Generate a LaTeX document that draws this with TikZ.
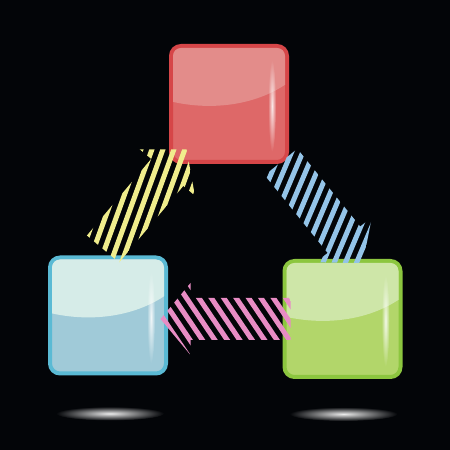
\documentclass[tikz,border=0pt]{standalone}
\usepackage{tikz}
\usetikzlibrary{calc, fadings, positioning}

\definecolor{bg}{RGB}{3,5,8}
\definecolor{redline}{RGB}{214,70,72}
\definecolor{redfill}{RGB}{222,104,104}
\definecolor{redgloss}{RGB}{227,140,138}
\definecolor{blueline}{RGB}{90,186,212}
\definecolor{bluefill}{RGB}{160,202,216}
\definecolor{bluegloss}{RGB}{214,236,232}
\definecolor{greenline}{RGB}{140,198,63}
\definecolor{greenfill}{RGB}{178,214,106}
\definecolor{greengloss}{RGB}{206,230,168}
\definecolor{stripeyellow}{RGB}{240,237,140}
\definecolor{stripeblue}{RGB}{148,196,232}
\definecolor{stripepink}{RGB}{232,140,196}
\definecolor{shadowcore}{RGB}{235,235,235}

\tikzfading[name=glint, inner color=transparent!15, outer color=transparent!100]

\tikzset{
    glassbox/.style 2 args={
        draw=#1, fill=#2, line width=4pt, rounded corners=10pt,
        minimum size=116pt, inner sep=0pt
    },
    stripe/.style={line width=5pt}
}

% gloss on the upper half and a glint on the right side
\newcommand{\glossbox}[2]{%
    \begin{scope}[shift={(#1.center)}]
        \clip[rounded corners=8pt] (-56,-56) rectangle (56,56);
        \fill[#2] (-60,3) .. controls (-15,-8) and (30,0) .. (60,22) -- (60,60) -- (-60,60) -- cycle;
        \fill[white, path fading=glint] (43,-2) ellipse (4 and 46);
    \end{scope}
}

% striped arrow: tail, direction, stripe angle, colour
\newcommand{\stripedarrow}[4]{%
    \begin{scope}
        \clip[shift={(#1)}, rotate=#2] (0,-21) -- (100,-21) -- (100,-36) -- (130,0)
            -- (100,36) -- (100,21) -- (0,21) -- cycle;
        \foreach \k in {-8,...,8}
            \draw[stripe, #4, shift={(#1)}, rotate=#2, shift={(65,0)}, rotate={#3-#2}]
                (-95,\k*10.3) -- (95,\k*10.3);
    \end{scope}
}

\begin{document}
\begin{tikzpicture}[x=1pt, y=1pt]
    \fill[bg] (0,0) rectangle (450,450);
    \useasboundingbox (0,0) rectangle (450,450);

    % boxes
    \node[glassbox={redline}{redfill}] (red) at (229,346) {};
    \node[glassbox={blueline}{bluefill}] (blue) at (108,134.5) {};
    \node[glassbox={greenline}{greenfill}] (green) at (342.5,131) {};
    \glossbox{red}{redgloss}
    \glossbox{blue}{bluegloss}
    \glossbox{green}{greengloss}

    % shadows
    \shade[inner color=shadowcore, outer color=bg] ($(blue.south)+(2,-38)$) ellipse (54 and 7);
    \shade[inner color=shadowcore, outer color=bg] ($(green.south)+(1,-35)$) ellipse (54 and 7);

    % arrows
    \coordinate (ytail) at ($(blue.north)+(-5,6.5)$);
    \coordinate (btail) at ($(red.south east)+(-8,2)$);
    \coordinate (ptail) at ($(green.west)+(8,0)$);
    \stripedarrow{ytail}{50}{70}{stripeyellow}
    \stripedarrow{btail}{-51}{67}{stripeblue}
    \stripedarrow{ptail}{180}{124}{stripepink}
\end{tikzpicture}
\end{document}
